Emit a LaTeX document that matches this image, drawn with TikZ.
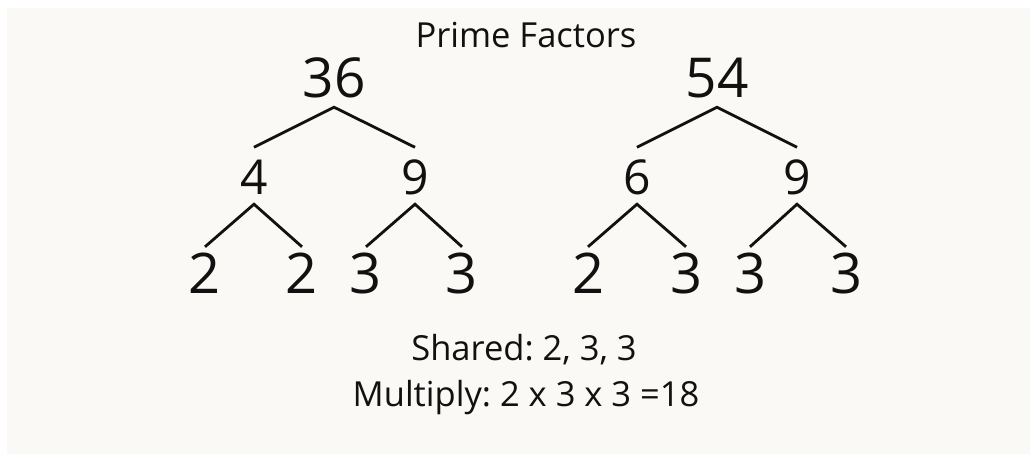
\documentclass[tikz,border=0pt]{standalone}
\usepackage{fontspec}
\setmainfont{Open Sans}
\frenchspacing
\definecolor{cream}{RGB}{251,249,245}
\definecolor{ink}{RGB}{17,17,17}
\tikzset{
  rootnum/.style={anchor=base, inner sep=0pt, text=ink, font=\fontsize{55}{60}\selectfont, text height=39pt, text depth=10pt},
  midnum/.style={anchor=base, inner sep=0pt, text=ink, font=\fontsize{48}{52}\selectfont, text height=46.5pt, text depth=10pt},
  leafnum/.style={anchor=base, inner sep=0pt, text=ink, font=\fontsize{56}{60}\selectfont, text height=46pt, text depth=0pt},
  caption/.style={anchor=base, inner sep=0pt, text=ink, font=\fontsize{34.5}{40}\selectfont\frenchspacing},
  branch/.style={draw=ink, line width=2.8pt}
}
\begin{document}
\begin{tikzpicture}[x=1pt,y=-1pt]
\useasboundingbox (0,0) rectangle (1032,458);
\fill[white] (0,0) rectangle (1032,458);
\fill[cream] (7,8) rectangle (1030,454);

\node[caption] (title) at (526,47) {Prime Factors};

% left tree
\node[rootnum] (a) at (334,97) {36};
\node[midnum] (a4) at (254,194) {4};
\node[midnum] (a9) at (415,194) {9};
\node[leafnum] (a4l) at (205,293) {2};
\node[leafnum] (a4r) at (302,293) {2};
\node[leafnum] (a9l) at (366,293) {3};
\node[leafnum] (a9r) at (462,293) {3};
\draw[branch] (a4.north) -- (a.south) -- (a9.north);
\draw[branch] (a4l.north) -- (a4.south) -- (a4r.north);
\draw[branch] (a9l.north) -- (a9.south) -- (a9r.north);

% right tree
\node[rootnum] (b) at (717,97) {54};
\node[midnum] (b6) at (637,194) {6};
\node[midnum] (b9) at (797,194) {9};
\node[leafnum] (b6l) at (588,293) {2};
\node[leafnum] (b6r) at (686,293) {3};
\node[leafnum] (b9l) at (750,293) {3};
\node[leafnum] (b9r) at (846,293) {3};
\draw[branch] (b6.north) -- (b.south) -- (b9.north);
\draw[branch] (b6l.north) -- (b6.south) -- (b6r.north);
\draw[branch] (b9l.north) -- (b9.south) -- (b9r.north);

\node[caption] (shared) at (524,360) {Shared: 2, 3, 3};
\node[caption] (mult) at (526,406) {Multiply: 2 x 3 x 3 =18};
\end{tikzpicture}
\end{document}
